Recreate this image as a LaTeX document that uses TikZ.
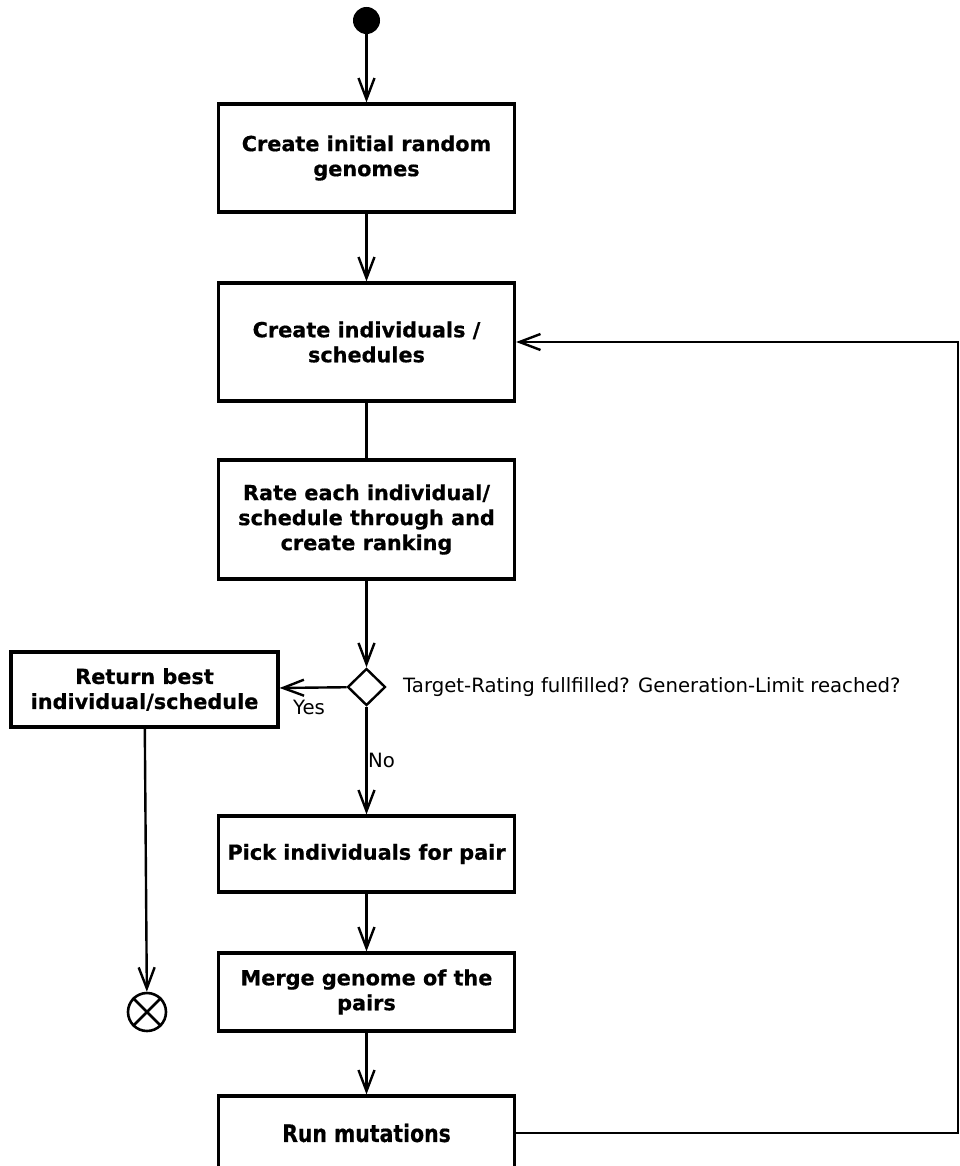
\documentclass[tikz,border=0pt]{standalone}
\usepackage{fontspec}
\setmainfont{DejaVu Sans}[BoldFeatures={FakeBold=0.6}]
\newfontfamily\condfont[FakeStretch=0.85,BoldFeatures={FakeBold=0.6}]{DejaVu Sans}
\usetikzlibrary{shapes.geometric,arrows.meta}
\begin{document}
\begin{tikzpicture}[x=1pt,y=-1pt,
  act/.style={draw, line width=3.2pt, rectangle, minimum width=296pt, align=center,
    inner sep=0pt, font=\fontsize{20.8}{25}\selectfont\bfseries},
  flow/.style={line width=2.4pt, -{Straight Barb[length=21pt,width=16pt]}},
  plain/.style={line width=2.4pt},
  lbl/.style={font=\fontsize{19.7}{24}\selectfont, inner sep=0pt}]
\useasboundingbox (0,0) rectangle (959,1166);

% start and end markers
\node[circle, fill, minimum size=27pt, inner sep=0pt] (start) at (366.5,20.5) {};
\node[circle, draw, line width=2.6pt, minimum size=38pt, inner sep=0pt] (final) at (147,1012) {};
\draw[line width=2.6pt] (final.north east) -- (final.south west)
                        (final.north west) -- (final.south east);

% activities
\node[act, minimum height=108pt] (init)  at (366.5,158)   {Create initial random\\genomes};
\node[act, minimum height=118pt] (indiv) at (366.5,342)   {Create individuals /\\schedules};
\node[act, minimum height=119pt] (rate)  at (366.5,519.5) {Rate each individual/\\schedule through and\\create ranking};
\node[act, minimum height=76pt]  (pick)  at (366.5,854)   {Pick individuals for pair};
\node[act, minimum height=78pt]  (merge) at (366.5,992)   {Merge genome of the\\pairs};
\node[act, minimum height=74pt, font=\fontsize{24}{28}\condfont\bfseries] (mut) at (366.5,1133) {Run mutations};
\node[act, minimum width=267pt, minimum height=75pt] (ret) at (144.5,689.5) {Return best\\individual/schedule};

% decision
\node[diamond, draw, line width=2.4pt, minimum width=38pt, minimum height=37pt, inner sep=0pt] (dec) at (366.5,687) {};
\node[lbl, anchor=west] (cond) at (403,687) {Target-Rating fullfilled? Generation-Limit reached?};

% flow
\draw[flow] (start) -- (init);
\draw[flow] (init) -- (indiv);
\draw[plain] (indiv) -- (rate);
\draw[flow] (rate) -- (dec);
\draw[flow] (dec) -- (ret);
\draw[flow] (dec) -- (pick);
\draw[flow] (pick) -- (merge);
\draw[flow] (merge) -- (mut);
\draw[flow] (ret) -- (final);
\coordinate (loopc) at (958,1133);
\draw[flow] (mut.east) -- (loopc) |- (indiv.east);

\node[lbl] (yes) at (309,707) {Yes};
\node[lbl, anchor=west] (no) at (368,760) {No};
\end{tikzpicture}
\end{document}
